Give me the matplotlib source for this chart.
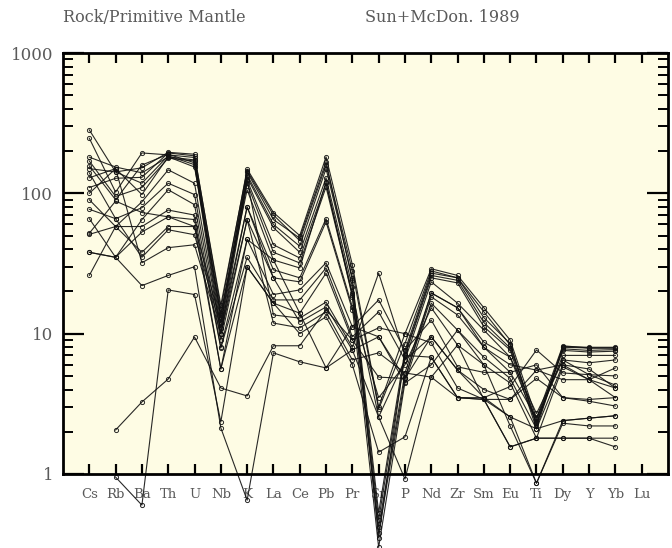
import numpy as np
import matplotlib
matplotlib.use("Agg")
import matplotlib.pyplot as plt
from matplotlib.ticker import LogLocator, NullFormatter, FixedLocator

nan = np.nan

elements = ["Cs", "Rb", "Ba", "Th", "U", "Nb", "K", "La", "Ce", "Pb", "Pr",
            "Sr", "P", "Nd", "Zr", "Sm", "Eu", "Ti", "Dy", "Y", "Yb", "Lu"]

# rock / primitive mantle, one list per sample (Lu not analysed)
s01 = [283, 142, 152, 196, 190, 15, 149, 73, 50, 182, 31, 3.0, 10, 29, 26, 15.3, 9.0, 2.5, 8.2, 7.9, 7.9, nan]
s02 = [247, 102, 194, 188, 180, 13, 142, 65, 48, 168, 24, 0.53, 7.6, 27, 25, 14.3, 8.3, 2.3, 7.6, 7.4, 7.5, nan]
s03 = [181, 154, 140, 182, 173, 12, 130, 57, 38, 129, 21.5, 0.47, 7.0, 25, 23, 11.2, 7.65, 2.1, 8.0, 7.9, 7.9, nan]
s04 = [157, 90, 159, 190, 165, 11, 124, 43, 34.6, 118, 19.5, 2.55, 6.5, 23.4, 16.5, 10.6, 6.8, 2.3, 7.0, 7.0, 7.0, nan]
s05 = [150, 142, 118, 185, 160, 10, 118, 38, 31.9, 111, 18.9, 0.42, 5.25, 19.5, 15.3, 8.7, 6.8, 2.7, 6.5, 6.2, 6.5, nan]
s06 = [129, 150, 98, 182, 154, 14, 106, 33.5, 29.4, 120, 18.3, 0.38, 4.8, 18.3, 13.6, 8.0, 5.3, 2.5, 6.5, 5.1, 4.3, nan]
s07 = [110, 128, 130, 194, 185, 16, 145, 70, 46, 160, 28, 2.9, 8.5, 28, 25, 13, 8.5, 2.2, 8.1, 8.0, 8.0, nan]
s08 = [170, 95, 110, 178, 170, 13.5, 135, 60, 42, 150, 25, 0.35, 7.2, 26, 24, 12, 7.9, 2.4, 7.8, 7.6, 7.7, nan]
s09 = [90, 58, 87, 147, 118, 10, 80, 28.5, 25, 66, 15.5, 0.30, 4.5, 16.5, 10.6, 6.8, 4.8, 2.1, 6.0, 5.6, 4.1, nan]
s10 = [77, 66, 79, 118, 98, 9, 65, 25, 23.4, 62.7, 14.8, 3.5, 6.0, 15.3, 8.3, 6.0, 4.45, 1.8, 5.8, 4.7, 3.5, nan]
s11 = [66, 35, 65, 106, 83, 8, 47, 19, 20.5, 32, 11.2, 17.4, 7.6, 12.5, 5.8, 5.3, 5.3, 6.0, 3.5, 3.3, 3.05, nan]
s12 = [51, 58, 58, 76, 70, 7.9, 35, 17.4, 17.4, 29.4, 9.5, 14.3, 6.5, 9.5, 5.5, 3.5, 4.2, 7.65, 5.25, 5.1, 5.0, nan]
s13 = [38, 35, 53, 68, 65, 5.6, 30, 16.5, 14, 27, 9.0, 11, 10, 8.6, 4.1, 3.4, 3.4, 5.5, 4.7, 4.7, 5.7, nan]
s14 = [26, 58, 38, 58, 58, 12, 124, 13.6, 12.9, 16.8, 8.0, 27, 7.0, 6.8, 3.5, 3.5, 2.55, 0.86, 2.4, 2.5, 2.6, nan]
s15 = [140, 66, 35, 55, 50.7, 11, 80, 25, 12.1, 15.5, 7.65, 9.5, 4.45, 6.0, 10.6, 6.0, 2.2, 0.86, 2.3, 2.2, 2.2, nan]
s16 = [100, 150, 32, 41, 43, 10, 65, 11.9, 11, 14.3, 6.5, 7.3, 5.25, 4.9, 8.3, 3.4, 1.56, 1.8, 1.8, 1.8, 1.8, nan]
s17 = [52, 88, 73, 68, 58, 5.6, 47, 33.5, 14, 5.7, 11.2, 9.5, 4.8, 19.5, 15.3, 8.0, 6.0, 5.5, 6.0, 4.7, 4.1, nan]
s18 = [nan, 2.06, 3.26, 4.75, 9.47, 4.1, 3.6, 8.2, 8.2, 14.8, 9.0, 4.9, 4.8, 9.5, 5.5, 4.0, 3.4, 4.8, 3.5, 3.4, 3.5, nan]
s19 = [nan, 0.95, 0.6, 20.5, 19, 2.35, 30, 16.5, 10, 13.2, 6.0, 1.43, 1.84, 6.8, 3.5, 3.4, 2.55, 2.1, 2.4, 2.5, 2.6, nan]
s20 = [38, 35, 22, 26, 30, 2.13, 0.65, 7.3, 6.3, 5.7, 7.65, 2.55, 0.92, 4.9, 3.5, 3.4, 1.56, 1.8, 1.8, 1.8, 1.56, nan]

samples = [s01, s02, s03, s04, s05, s06, s07, s08, s09, s10,
           s11, s12, s13, s14, s15, s16, s17, s18, s19, s20]

bg = "#fefce4"
grey = "#5a5a5a"

fig = plt.figure(figsize=(6.72, 5.48), dpi=100)
ax = fig.add_axes([63/672, 74/548, 605/672, 421/548])
ax.set_facecolor(bg)

x = np.arange(1, len(elements) + 1)
for s in samples:
    ax.plot(x, s, color="#111111", lw=0.8, marker="o", ms=3, mfc="none",
            mec="#111111", mew=0.7, clip_on=False, alpha=0.9)

ax.set_yscale("log")
ax.set_ylim(1, 1000)
ax.set_xlim(0, len(elements) + 1)

ax.set_xticks(x)
ax.set_xticklabels(elements, family="DejaVu Serif", fontsize=9.5, color=grey)
ax.yaxis.set_major_locator(FixedLocator([1, 10, 100, 1000]))
ax.set_yticklabels(["1", "10", "100", "1000"], family="DejaVu Serif",
                   fontsize=12, color=grey)
ax.yaxis.set_minor_locator(LogLocator(base=10, subs=np.arange(2, 10)))
ax.yaxis.set_minor_formatter(NullFormatter())

ax.tick_params(axis="x", which="major", direction="in", top=True, bottom=True,
               length=7, width=1.6, pad=10)
ax.tick_params(axis="y", which="major", direction="in", left=True, right=True,
               length=15, width=1.6, pad=7)
ax.tick_params(axis="y", which="minor", direction="in", left=True, right=True,
               length=7, width=1.4)
for sp in ax.spines.values():
    sp.set_linewidth(2)

fig.text(63/672, 1 - 17/548, "Rock/Primitive Mantle", family="DejaVu Serif",
         fontsize=11.5, color=grey, va="center")
fig.text(365/672, 1 - 17/548, "Sun+McDon. 1989", family="DejaVu Serif",
         fontsize=11.5, color=grey, va="center")

fig.savefig("out.png", dpi=100, facecolor="white")
